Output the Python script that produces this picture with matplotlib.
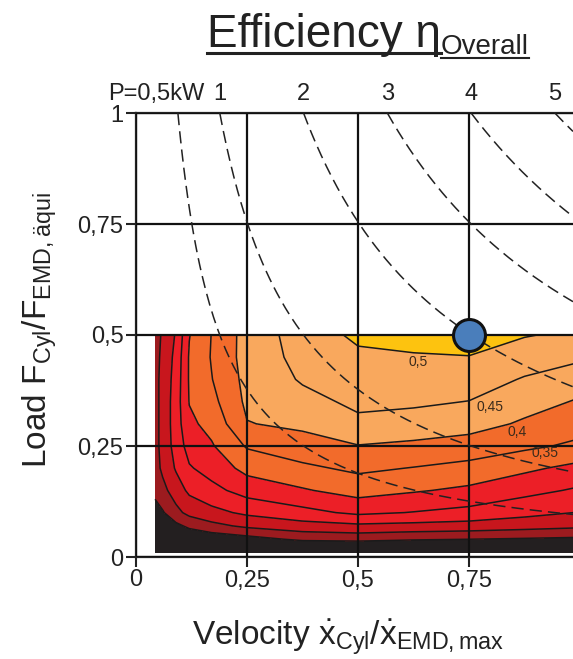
import numpy as np
import matplotlib.pyplot as plt
from matplotlib.lines import Line2D

plt.rcParams['font.family'] = ['Liberation Sans', 'DejaVu Sans']
plt.rcParams['mathtext.fontset'] = 'custom'
plt.rcParams['mathtext.rm'] = 'Liberation Sans'
plt.rcParams['mathtext.it'] = 'Liberation Sans'
plt.rcParams['mathtext.bf'] = 'Liberation Sans:bold'

# grid of the measured map (velocity and load, normalised)
velocity = [0.043, 0.06, 0.09, 0.12, 0.17, 0.25, 0.375, 0.5, 0.625, 0.75, 0.875, 1.0]
load = [0.01, 0.04, 0.07, 0.1, 0.15, 0.2, 0.25, 0.3, 0.35, 0.4, 0.45, 0.5]

# overall efficiency, one row per load value
eta = [
    [0.01, 0.01, 0.01, 0.01, 0.01, 0.01, 0.01, 0.01, 0.01, 0.01, 0.01, 0.01],
    [0.04, 0.04, 0.05, 0.06, 0.065, 0.08, 0.11, 0.115, 0.105, 0.10, 0.095, 0.09],
    [0.06, 0.07, 0.088, 0.11, 0.135, 0.16, 0.18, 0.19, 0.185, 0.18, 0.17, 0.16],
    [0.085, 0.095, 0.135, 0.165, 0.185, 0.21, 0.235, 0.26, 0.248, 0.235, 0.215, 0.198],
    [0.11, 0.135, 0.175, 0.21, 0.235, 0.27, 0.295, 0.32, 0.305, 0.29, 0.265, 0.243],
    [0.13, 0.16, 0.205, 0.245, 0.27, 0.315, 0.34, 0.36, 0.348, 0.335, 0.31, 0.285],
    [0.135, 0.165, 0.22, 0.27, 0.295, 0.355, 0.38, 0.398, 0.39, 0.378, 0.36, 0.34],
    [0.135, 0.165, 0.225, 0.29, 0.315, 0.398, 0.41, 0.44, 0.43, 0.42, 0.393, 0.37],
    [0.135, 0.165, 0.225, 0.302, 0.335, 0.41, 0.435, 0.46, 0.458, 0.449, 0.42, 0.395],
    [0.135, 0.165, 0.22, 0.305, 0.348, 0.415, 0.455, 0.475, 0.478, 0.475, 0.446, 0.422],
    [0.135, 0.16, 0.215, 0.305, 0.353, 0.42, 0.465, 0.49, 0.497, 0.499, 0.475, 0.458],
    [0.135, 0.155, 0.205, 0.298, 0.351, 0.42, 0.472, 0.51, 0.512, 0.514, 0.503, 0.49],
]

band_levels = [0, 0.1, 0.15, 0.2, 0.3, 0.4, 0.5, 1.0]
band_colors = ['#231f20', '#9c1b1f', '#c8161d', '#ec1f27', '#f26b2b', '#f9a85d', '#fdc30f']
line_levels = [0.1, 0.15, 0.2, 0.25, 0.3, 0.35, 0.4, 0.45, 0.5]

# contour labels (value, velocity, load)
label_text = ['0,5', '0,45', '0,4', '0,35']
label_x = [0.635, 0.797, 0.858, 0.921]
label_y = [0.44, 0.338, 0.282, 0.234]

# lines of constant power, P in kW; 1.0 x 1.0 corresponds to p_nominal
power_kw = [0.5, 1, 2, 3, 4, 5]
power_labels = ['P=0,5kW', '1', '2', '3', '4', '5']
p_nominal = 5.3

# operating point
op_velocity = [0.75]
op_load = [0.5]

xticks = [0, 0.25, 0.5, 0.75]
xtick_labels = ['0', '0,25', '0,5', '0,75']
yticks = [0, 0.25, 0.5, 0.75, 1]
ytick_labels = ['0', '0,25', '0,5', '0,75', '1']

W, H = 573, 659
fig = plt.figure(figsize=(W / 100, H / 100), dpi=100)
ax = fig.add_axes([136 / W, 1 - 557 / H, (W - 136) / W, 444 / H])

X, Y = np.meshgrid(velocity, load)
Z = np.array(eta)
ax.contourf(X, Y, Z, levels=band_levels, colors=band_colors, zorder=1)
ax.contour(X, Y, Z, levels=line_levels, colors='#1a1a1a', linewidths=1.1, zorder=2)

for t, x, y in zip(label_text, label_x, label_y):
    ax.text(x, y, t, fontsize=10, color='#3b2b1b', ha='center', va='center', zorder=4)

xmax = (W - 136) / 444
for p, lab in zip(power_kw, power_labels):
    x0 = p / p_nominal
    xs = np.linspace(x0, xmax, 200)
    ax.plot(xs, x0 / xs, color='#222222', lw=1.1, ls=(0, (8, 4)), zorder=3)
    if lab.startswith('P'):
        ax.text(0.155, 1.03, lab, fontsize=17, ha='right', va='baseline', color='#222222')
    else:
        ax.text(x0, 1.03, lab, fontsize=17, ha='center', va='baseline', color='#222222')

ax.plot(op_velocity, op_load, 'o', ms=23, mfc='#4a7ebb', mec='#111111', mew=2.2, zorder=6)

ax.set_xlim(0, xmax)
ax.set_ylim(0, 1)
ax.set_xticks(xticks)
ax.set_xticklabels(xtick_labels)
ax.set_yticks(yticks)
ax.set_yticklabels(ytick_labels)
ax.tick_params(direction='out', length=7, width=1.5, labelsize=17, colors='#222222', pad=2)
ax.grid(True, color='#111111', lw=1.6)
ax.axvline(1.0, color='#111111', lw=1.6)
ax.set_axisbelow(False)
for s in ['left', 'bottom', 'top']:
    ax.spines[s].set_linewidth(1.6)
    ax.spines[s].set_color('#222222')
ax.spines['right'].set_visible(False)

fig.text(348 / W, 1 - 637 / H,
         r'Velocity $\dot{\mathrm{x}}_{\mathrm{Cyl}}/\dot{\mathrm{x}}_{\mathrm{EMD,max}}$',
         fontsize=24, ha='center', va='center', color='#222222')
fig.text(40 / W, 1 - 330 / H,
         r'Load $\mathrm{F}_{\mathrm{Cyl}}/\mathrm{F}_{\mathrm{EMD,äqui}}$',
         fontsize=24, ha='center', va='center', rotation=90, color='#222222')

title = fig.text(207 / W, 1 - 47 / H, 'Efficiency η', fontsize=33,
                 ha='left', va='baseline', color='#222222')
fig.canvas.draw()
r = fig.canvas.get_renderer()
tb = title.get_window_extent(r)
sub = fig.text(tb.x1 / W, 1 - 54 / H, 'Overall', fontsize=20,
               ha='left', va='baseline', color='#222222')
fig.canvas.draw()
sb = sub.get_window_extent(r)
fig.add_artist(Line2D([tb.x0 / W, tb.x1 / W], [1 - 53 / H] * 2, color='#222222', lw=2.2))
fig.add_artist(Line2D([sb.x0 / W, sb.x1 / W], [1 - 58 / H] * 2, color='#222222', lw=1.5))

fig.savefig('out.png', dpi=100)
